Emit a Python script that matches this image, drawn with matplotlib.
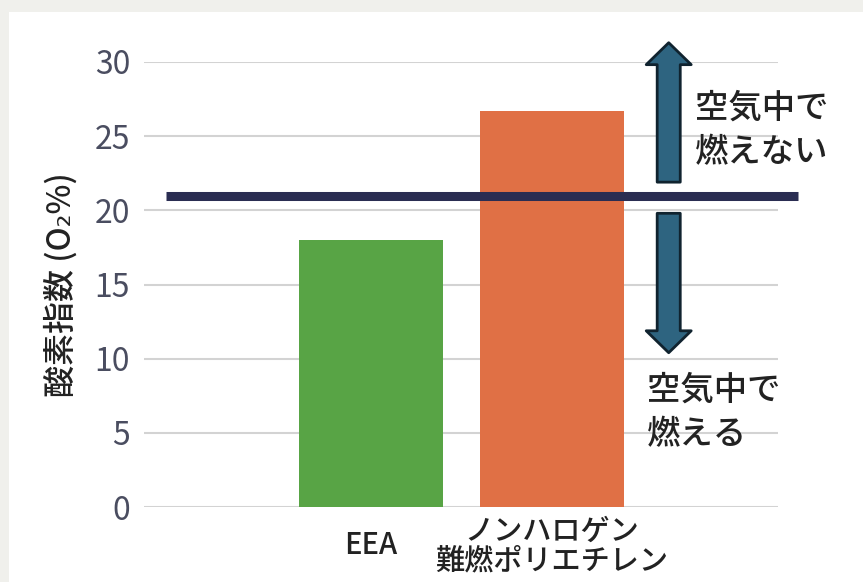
import matplotlib.pyplot as plt
import matplotlib.patches as mpatches

plt.rcParams['font.family'] = ['Noto Sans CJK JP', 'DejaVu Sans']

# data
categories = ['EEA', 'ノンハロゲン\n難燃ポリエチレン']
values = [18.0, 26.7]
bar_colors = ['#58a445', '#e07045']
threshold = 21.0
y_ticks = [0, 5, 10, 15, 20, 25, 30]

fig = plt.figure(figsize=(8.63, 5.82), dpi=100, facecolor='#f0f0ec')
# white panel
fig.patches.append(mpatches.Rectangle((9 / 863, 0), 1, (582 - 12) / 582,
                                      transform=fig.transFigure, facecolor='white',
                                      edgecolor='none', zorder=-5))

ax = fig.add_axes([144 / 863, 75 / 582, 634 / 863, 445 / 582])
ax.set_facecolor('none')

x = list(range(len(categories)))
ax.bar(x, values, width=0.795, color=bar_colors, zorder=2)

ax.set_xlim(-1.254, 2.25)
ax.set_ylim(0, 30)
ax.set_yticks(y_ticks)
ax.set_xticks(x)
ax.tick_params(axis='y', labelsize=23, labelcolor='#4a4d60', length=0, pad=10)
ax.tick_params(axis='x', length=0, pad=28)
ax.set_xticklabels(categories, fontsize=21, color='#222222', linespacing=0.95,
                   weight='medium', va='center')
ax.grid(axis='y', color='#d3d3d3', linewidth=1.5, zorder=1)
ax.set_axisbelow(True)
for s in ax.spines.values():
    s.set_visible(False)

ax.set_ylabel('酸素指数 (O₂%)', fontsize=23, color='#222222', labelpad=12,
              weight='medium')

# threshold line
ax.axhline(threshold, xmin=0.0347, xmax=1.0315, color='#2a2d52', linewidth=6.5,
           zorder=3, clip_on=False, solid_capstyle='butt')

# arrows
arrow_style = 'simple,head_length=15.8,head_width=32.4,tail_width=16.6'
arrow_props = dict(arrowstyle=arrow_style, mutation_scale=1, shrinkA=0, shrinkB=0,
                   facecolor='#2e6480', edgecolor='#10232f', linewidth=2)
ax.annotate('', xy=(1.646, 31.3), xytext=(1.646, 21.9),
            arrowprops=arrow_props, annotation_clip=False, zorder=4)
ax.annotate('', xy=(1.646, 10.4), xytext=(1.646, 19.8),
            arrowprops=arrow_props, annotation_clip=False, zorder=4)

ax.text(1.79, 25.4, '空気中で\n燃えない', fontsize=24, color='#222222', weight='medium',
        ha='left', va='center', linespacing=1.35, clip_on=False)
ax.text(1.525, 6.4, '空気中で\n燃える', fontsize=24, color='#222222', weight='medium',
        ha='left', va='center', linespacing=1.35, clip_on=False)

fig.savefig('out.png', dpi=100, facecolor=fig.get_facecolor())
